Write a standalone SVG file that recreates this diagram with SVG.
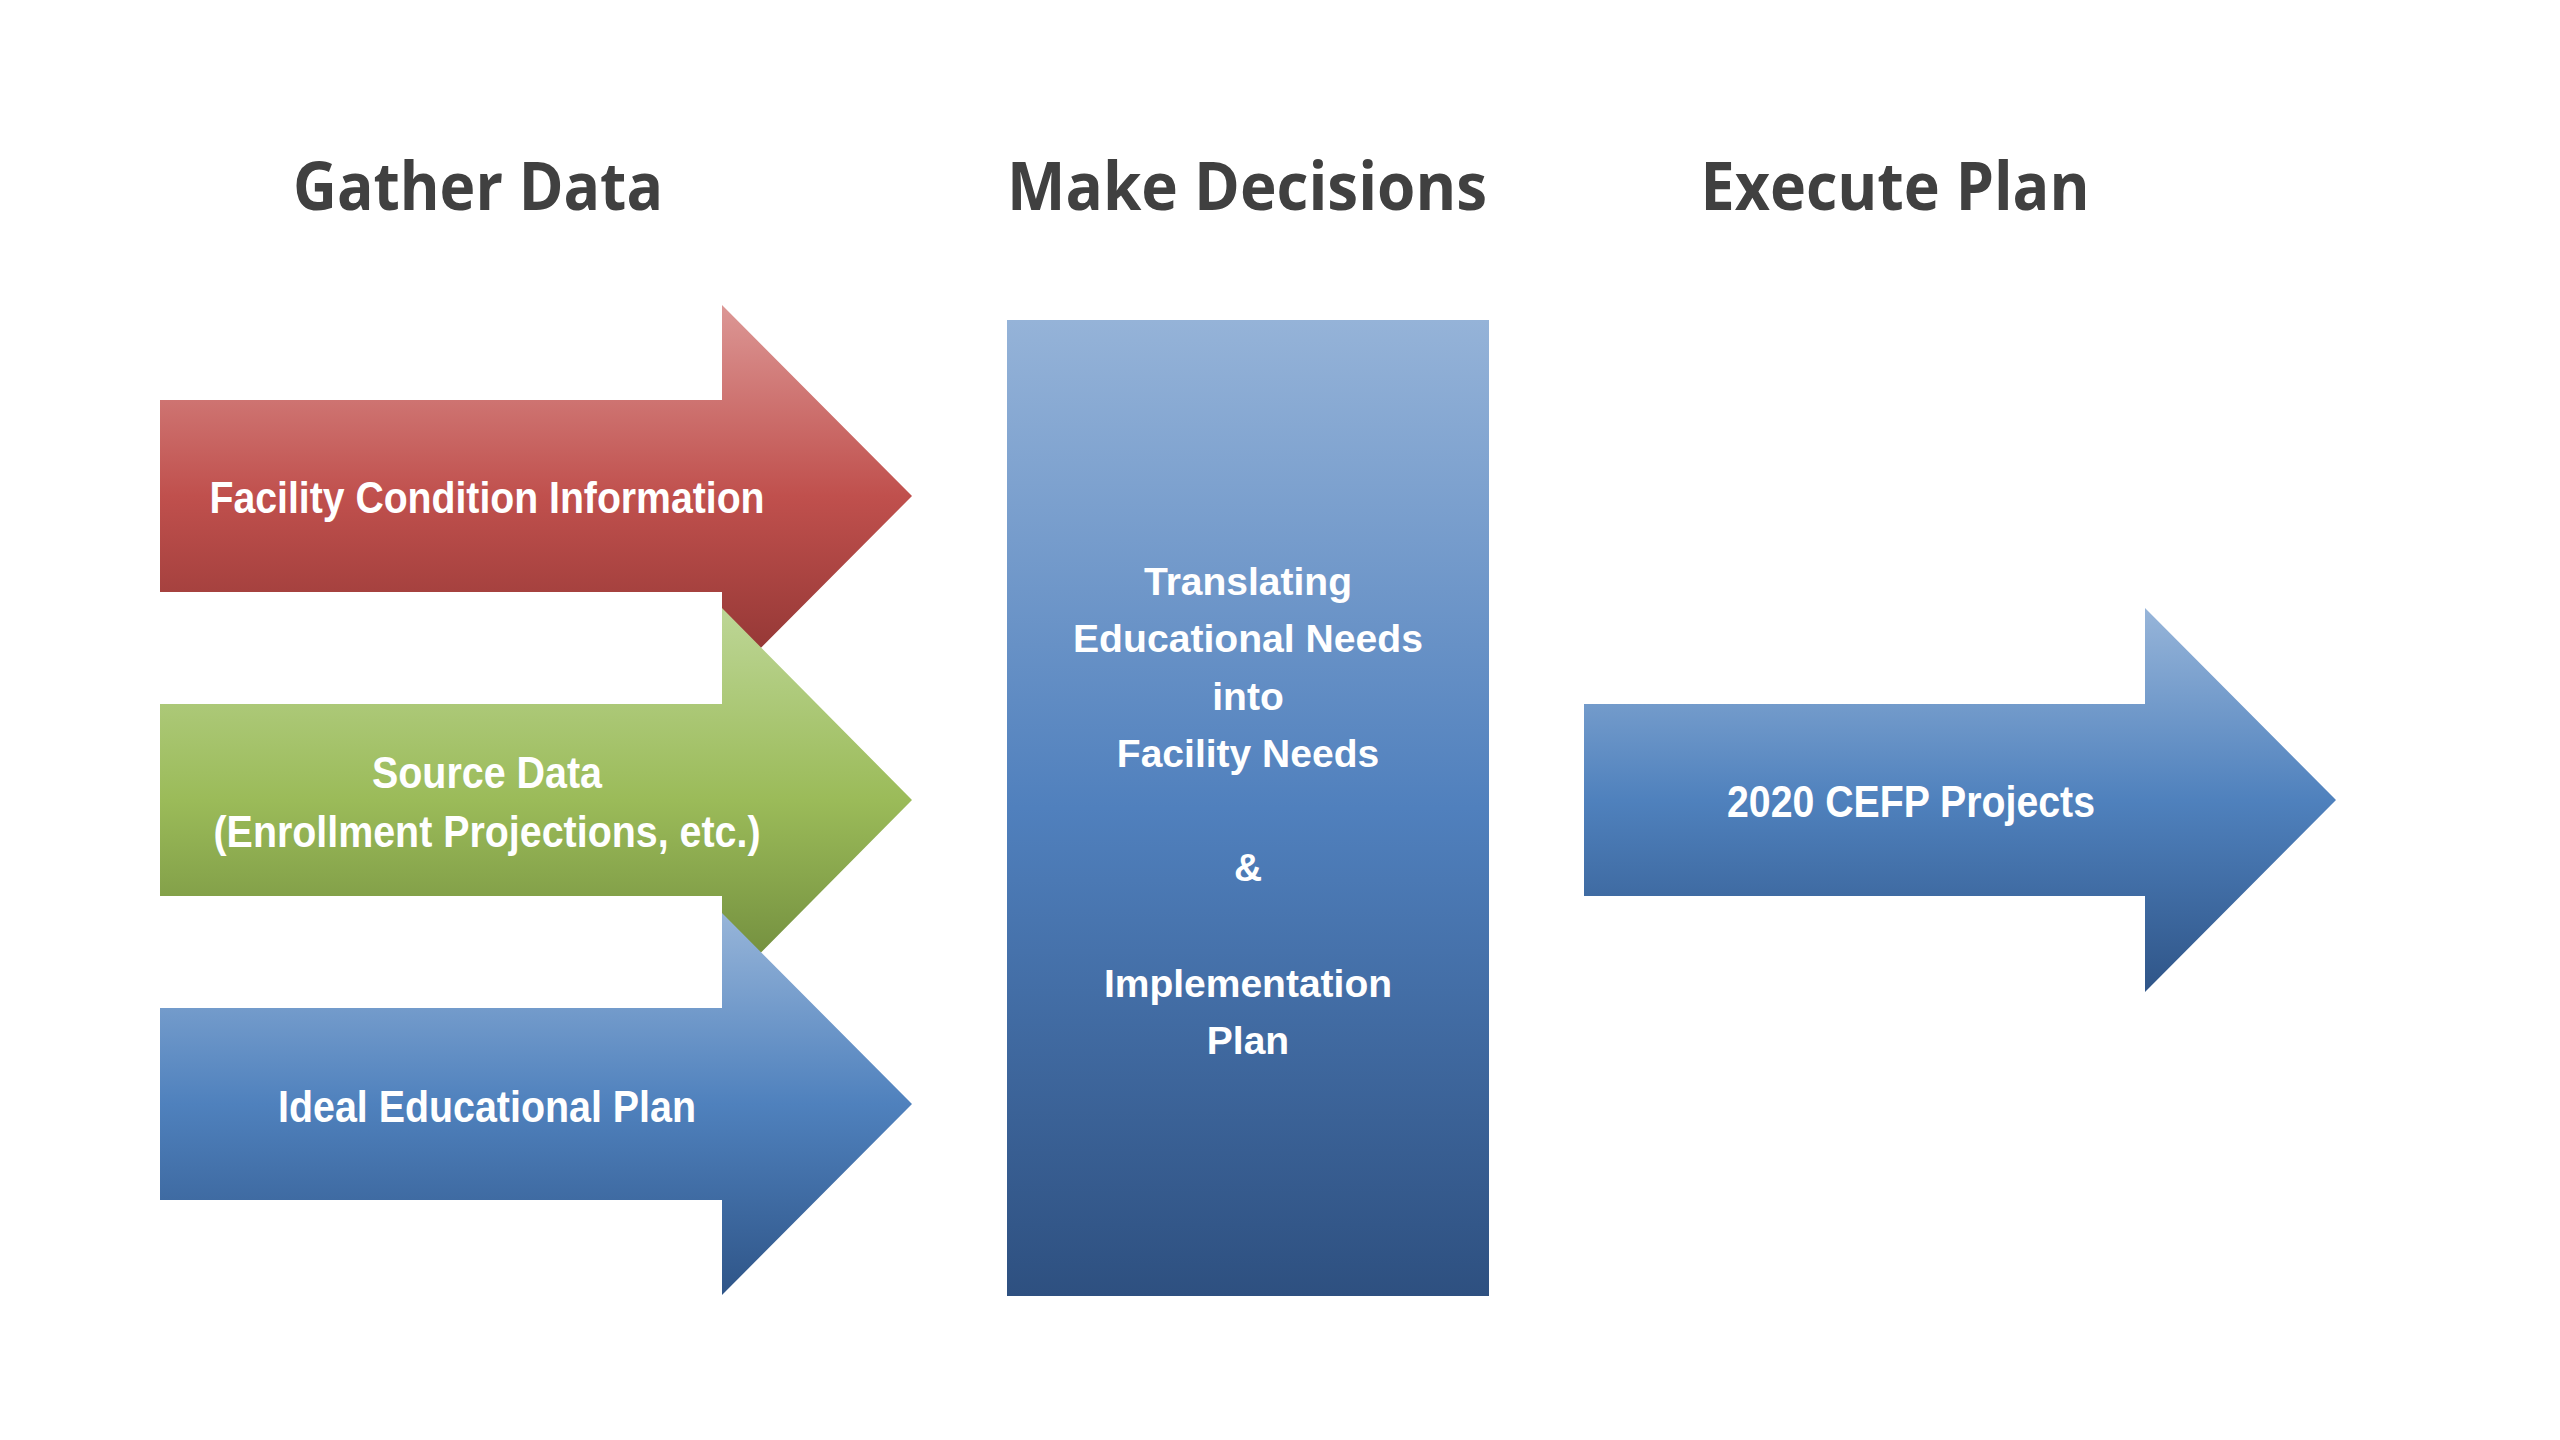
<svg xmlns="http://www.w3.org/2000/svg" width="2560" height="1440" viewBox="0 0 2560 1440">
<style>
.title{font-family:"Open Sans","Noto Sans","Liberation Sans",sans-serif;font-weight:700;font-size:66px;fill:#404040;text-anchor:middle}
.lbl{font-family:"Liberation Sans Narrow","Liberation Sans",Arial,sans-serif;font-weight:700;font-size:45px;fill:#ffffff;text-anchor:middle}
.mid{font-family:"Liberation Sans",Arial,sans-serif;font-weight:700;font-size:39px;fill:#ffffff;text-anchor:middle}
</style>
<defs>
<linearGradient id="gRed" x1="0" y1="0" x2="0" y2="1">
<stop offset="0" stop-color="#dc9795"/>
<stop offset="0.5" stop-color="#c0504d"/>
<stop offset="1" stop-color="#8c3331"/>
</linearGradient>
<linearGradient id="gGreen" x1="0" y1="0" x2="0" y2="1">
<stop offset="0" stop-color="#bdd696"/>
<stop offset="0.5" stop-color="#9bbb59"/>
<stop offset="1" stop-color="#6c873a"/>
</linearGradient>
<linearGradient id="gBlue" x1="0" y1="0" x2="0" y2="1">
<stop offset="0" stop-color="#97b5d9"/>
<stop offset="0.5" stop-color="#4f81bd"/>
<stop offset="1" stop-color="#2f5588"/>
</linearGradient>
<linearGradient id="gRect" x1="0" y1="0" x2="0" y2="1">
<stop offset="0" stop-color="#95b3d8"/>
<stop offset="0.5" stop-color="#5080bd"/>
<stop offset="1" stop-color="#2e5080"/>
</linearGradient>
</defs>
<rect width="2560" height="1440" fill="#ffffff"/>
<g id="titles">
<text class="title" x="478" y="210" textLength="370" lengthAdjust="spacingAndGlyphs">Gather Data</text>
<text class="title" x="1247" y="210" textLength="480" lengthAdjust="spacingAndGlyphs">Make Decisions</text>
<text class="title" x="1895" y="210" textLength="389" lengthAdjust="spacingAndGlyphs">Execute Plan</text>
</g>
<g id="facility-condition">
<path d="M160,400 H722 V305 L912,496 L722,687 V592 H160 Z" fill="url(#gRed)"/>
<text class="lbl" x="487" y="513" textLength="555" lengthAdjust="spacingAndGlyphs">Facility Condition Information</text>
</g>
<g id="source-data">
<path d="M160,704 H722 V608 L912,800 L722,992 V896 H160 Z" fill="url(#gGreen)"/>
<text class="lbl" x="487" y="788" textLength="230" lengthAdjust="spacingAndGlyphs">Source Data</text>
<text class="lbl" x="487" y="847" textLength="547" lengthAdjust="spacingAndGlyphs">(Enrollment Projections, etc.)</text>
</g>
<g id="ideal-plan">
<path d="M160,1008 H722 V913 L912,1104 L722,1295 V1200 H160 Z" fill="url(#gBlue)"/>
<text class="lbl" x="487" y="1122" textLength="418" lengthAdjust="spacingAndGlyphs">Ideal Educational Plan</text>
</g>
<g id="decisions">
<rect x="1007" y="320" width="482" height="976" fill="url(#gRect)"/>
<text class="mid" x="1248" y="595">Translating</text>
<text class="mid" x="1248" y="652" textLength="350" lengthAdjust="spacingAndGlyphs">Educational Needs</text>
<text class="mid" x="1248" y="710">into</text>
<text class="mid" x="1248" y="767">Facility Needs</text>
<text class="mid" x="1248" y="881">&amp;</text>
<text class="mid" x="1248" y="997">Implementation</text>
<text class="mid" x="1248" y="1054">Plan</text>
</g>
<g id="cefp-projects">
<path d="M1584,704 H2145 V608 L2336,800 L2145,992 V896 H1584 Z" fill="url(#gBlue)"/>
<text class="lbl" x="1911" y="817" textLength="368" lengthAdjust="spacingAndGlyphs">2020 CEFP Projects</text>
</g>
<g id="connectors"></g>
</svg>
